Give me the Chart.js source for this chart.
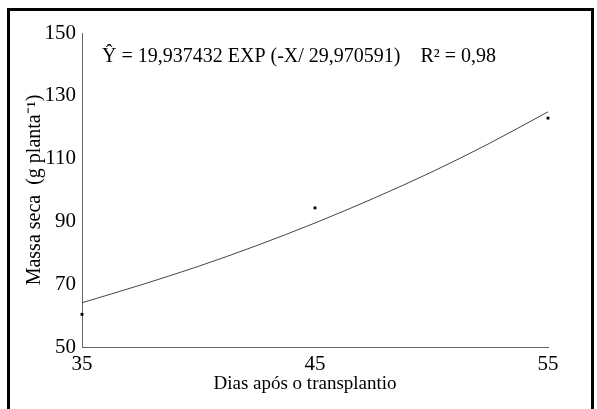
<!DOCTYPE html>
<html>
<head>
<meta charset="utf-8">
<script src="https://cdn.jsdelivr.net/npm/chart.js@4"></script>
<style>
  html, body { margin: 0; padding: 0; background: #fff; }
  #wrap { width: 597px; height: 409px; }
</style>
</head>
<body>
<div id="wrap"><canvas id="myChart" width="597" height="409"></canvas></div>
<script>
// observed values (days after transplant, dry mass)
const days = [35, 45, 55]
const massa = [60.4, 94.3, 122.9]
// fitted curve
const curveDays = [35, 37.5, 40, 42.5, 45, 47.5, 50, 52.5, 55]
const curveMassa = [64.1, 69.7, 75.7, 82.3, 89.5, 97.3, 105.7, 114.9, 124.9]
const xTicks = [35, 45, 55]
const yTicks = [50, 70, 90, 110, 130, 150]

const serif = '"Liberation Serif", "Times New Roman", serif'
const axisColor = '#666'

// frame round the figure, equation text and x title (sits a bit left of centre)
const extras = {
  id: 'extras',
  afterDraw (chart) {
    const ctx = chart.ctx
    ctx.save()
    ctx.strokeStyle = '#000'
    ctx.lineWidth = 3
    ctx.beginPath()
    ctx.moveTo(8.5, 420)
    ctx.lineTo(8.5, 9.5)
    ctx.lineTo(592.5, 9.5)
    ctx.lineTo(592.5, 420)
    ctx.stroke()

    ctx.fillStyle = '#000'
    ctx.font = '20px ' + serif
    ctx.textBaseline = 'alphabetic'
    ctx.fillText('Ŷ = 19,937432 EXP (-X/ 29,970591)    R² = 0,98', 102, 62)

    ctx.font = '19px ' + serif
    ctx.textAlign = 'center'
    ctx.textBaseline = 'middle'
    ctx.fillText('Dias após o transplantio', 305, 384)
    ctx.restore()
  }
}

const ctx = document.getElementById('myChart').getContext('2d')
const myChart = new Chart(ctx, {
  type: 'scatter',
  data: {
    datasets: [{
      label: 'curva',
      data: curveDays.map((d, i) => ({ x: d, y: curveMassa[i] })),
      showLine: true,
      borderColor: '#444',
      borderWidth: 1,
      pointRadius: 0,
      tension: 0.4,
      cubicInterpolationMode: 'monotone'
    }, {
      label: 'observado',
      data: days.map((d, i) => ({ x: d, y: massa[i] })),
      clip: false,
      pointStyle: 'rect',
      pointRadius: 2,
      backgroundColor: '#000',
      borderColor: '#000',
      borderWidth: 0
    }]
  },
  options: {
    responsive: false,
    animation: false,
    devicePixelRatio: 1,
    layout: { padding: { left: 0, top: 33, right: 49, bottom: 0 } },
    plugins: {
      legend: { display: false },
      tooltip: { enabled: false }
    },
    scales: {
      x: {
        type: 'linear',
        min: 35,
        max: 55,
        afterBuildTicks (scale) { scale.ticks = xTicks.map(v => ({ value: v })) },
        afterFit (scale) { scale.height = 62 },
        grid: { display: false, drawTicks: true, tickLength: 4, tickColor: axisColor },
        border: { display: true, color: axisColor, width: 1 },
        ticks: { color: '#000', padding: 1, font: { family: serif, size: 21 } },
        title: { display: false }
      },
      y: {
        min: 50,
        max: 150,
        afterBuildTicks (scale) { scale.ticks = yTicks.map(v => ({ value: v })) },
        afterFit (scale) { scale.width = 82 },
        grid: { display: false, drawTicks: true, tickLength: 4, tickColor: axisColor },
        border: { display: true, color: axisColor, width: 1 },
        ticks: { color: '#000', padding: 2, font: { family: serif, size: 21 } },
        title: {
          display: true,
          text: 'Massa seca  (g planta⁻¹)',
          color: '#000',
          font: { family: serif, size: 20 },
          padding: { top: 23, bottom: 0 }
        }
      }
    }
  },
  plugins: [extras]
})
</script>
</body>
</html>
